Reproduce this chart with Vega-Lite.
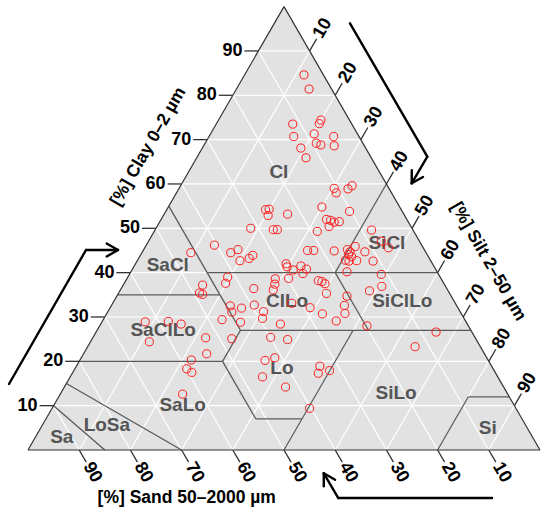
{
  "$schema": "https://vega.github.io/schema/vega-lite/v6.json",
  "width": 550,
  "height": 514,
  "autosize": {"type": "none"},
  "padding": 0,
  "background": "white",
  "config": {"view": {"stroke": null}, "font": "Liberation Sans"},
  "datasets": {
    "tri": [{"x": 0, "y": 0}, {"x": 50, "y": 100}, {"x": 100, "y": 0}],
    "grid": [
      {"x": 5, "y": 10, "x2": 95, "y2": 10}, {"x": 10, "y": 20, "x2": 90, "y2": 20}, {"x": 15, "y": 30, "x2": 85, "y2": 30},
      {"x": 20, "y": 40, "x2": 80, "y2": 40}, {"x": 25, "y": 50, "x2": 75, "y2": 50}, {"x": 30, "y": 60, "x2": 70, "y2": 60},
      {"x": 35, "y": 70, "x2": 65, "y2": 70}, {"x": 40, "y": 80, "x2": 60, "y2": 80}, {"x": 45, "y": 90, "x2": 55, "y2": 90},
      {"x": 10, "y": 0, "x2": 55, "y2": 90}, {"x": 20, "y": 0, "x2": 60, "y2": 80}, {"x": 30, "y": 0, "x2": 65, "y2": 70},
      {"x": 40, "y": 0, "x2": 70, "y2": 60}, {"x": 50, "y": 0, "x2": 75, "y2": 50}, {"x": 60, "y": 0, "x2": 80, "y2": 40},
      {"x": 70, "y": 0, "x2": 85, "y2": 30}, {"x": 80, "y": 0, "x2": 90, "y2": 20}, {"x": 90, "y": 0, "x2": 95, "y2": 10},
      {"x": 90, "y": 0, "x2": 45, "y2": 90}, {"x": 80, "y": 0, "x2": 40, "y2": 80}, {"x": 70, "y": 0, "x2": 35, "y2": 70},
      {"x": 60, "y": 0, "x2": 30, "y2": 60}, {"x": 50, "y": 0, "x2": 25, "y2": 50}, {"x": 40, "y": 0, "x2": 20, "y2": 40},
      {"x": 30, "y": 0, "x2": 15, "y2": 30}, {"x": 20, "y": 0, "x2": 10, "y2": 20}, {"x": 10, "y": 0, "x2": 5, "y2": 10}
    ],
    "bounds": [
      {"x": 5, "y": 10, "x2": 15, "y2": 0},
      {"x": 7.5, "y": 15, "x2": 30, "y2": 0},
      {"x": 10, "y": 20, "x2": 38, "y2": 20},
      {"x": 38, "y": 20, "x2": 44.5, "y2": 7},
      {"x": 44.5, "y": 7, "x2": 53.5, "y2": 7},
      {"x": 53.5, "y": 7, "x2": 50, "y2": 0},
      {"x": 53.5, "y": 7, "x2": 63.5, "y2": 27},
      {"x": 38, "y": 20, "x2": 41.5, "y2": 27},
      {"x": 41.5, "y": 27, "x2": 86.5, "y2": 27},
      {"x": 41.5, "y": 27, "x2": 37.5, "y2": 35},
      {"x": 37.5, "y": 35, "x2": 27.5, "y2": 55},
      {"x": 17.5, "y": 35, "x2": 37.5, "y2": 35},
      {"x": 35, "y": 40, "x2": 80, "y2": 40},
      {"x": 60, "y": 40, "x2": 70, "y2": 60},
      {"x": 60, "y": 40, "x2": 66.5, "y2": 27},
      {"x": 80, "y": 0, "x2": 86, "y2": 12},
      {"x": 86, "y": 12, "x2": 94, "y2": 12}
    ],
    "outline": [
      {"x": 0, "y": 0, "x2": 100, "y2": 0},
      {"x": 0, "y": 0, "x2": 50, "y2": 100},
      {"x": 100, "y": 0, "x2": 50, "y2": 100}
    ],
    "ticksL": [
      {"label": "10", "x": 2.27, "y": 10, "x2": 5, "y2": 10}, {"label": "20", "x": 7.27, "y": 20, "x2": 10, "y2": 20},
      {"label": "30", "x": 12.27, "y": 30, "x2": 15, "y2": 30}, {"label": "40", "x": 17.27, "y": 40, "x2": 20, "y2": 40},
      {"label": "50", "x": 22.27, "y": 50, "x2": 25, "y2": 50}, {"label": "60", "x": 27.27, "y": 60, "x2": 30, "y2": 60},
      {"label": "70", "x": 32.27, "y": 70, "x2": 35, "y2": 70}, {"label": "80", "x": 37.27, "y": 80, "x2": 40, "y2": 80},
      {"label": "90", "x": 42.27, "y": 90, "x2": 45, "y2": 90}
    ],
    "ticksB": [
      {"label": "90", "x": 11.37, "y": -2.73, "x2": 10, "y2": 0}, {"label": "80", "x": 21.37, "y": -2.73, "x2": 20, "y2": 0},
      {"label": "70", "x": 31.37, "y": -2.73, "x2": 30, "y2": 0}, {"label": "60", "x": 41.37, "y": -2.73, "x2": 40, "y2": 0},
      {"label": "50", "x": 51.37, "y": -2.73, "x2": 50, "y2": 0}, {"label": "40", "x": 61.37, "y": -2.73, "x2": 60, "y2": 0},
      {"label": "30", "x": 71.37, "y": -2.73, "x2": 70, "y2": 0}, {"label": "20", "x": 81.37, "y": -2.73, "x2": 80, "y2": 0},
      {"label": "10", "x": 91.37, "y": -2.73, "x2": 90, "y2": 0}
    ],
    "ticksR": [
      {"label": "10", "x": 56.37, "y": 92.73, "x2": 55, "y2": 90}, {"label": "20", "x": 61.37, "y": 82.73, "x2": 60, "y2": 80},
      {"label": "30", "x": 66.37, "y": 72.73, "x2": 65, "y2": 70}, {"label": "40", "x": 71.37, "y": 62.73, "x2": 70, "y2": 60},
      {"label": "50", "x": 76.37, "y": 52.73, "x2": 75, "y2": 50}, {"label": "60", "x": 81.37, "y": 42.73, "x2": 80, "y2": 40},
      {"label": "70", "x": 86.37, "y": 32.73, "x2": 85, "y2": 30}, {"label": "80", "x": 91.37, "y": 22.73, "x2": 90, "y2": 20},
      {"label": "90", "x": 96.37, "y": 12.73, "x2": 95, "y2": 10}
    ],
    "classes": [
      {"label": "Cl", "x": 49.0, "y": 62.8}, {"label": "SiCl", "x": 70.1, "y": 46.6},
      {"label": "SaCl", "x": 27.3, "y": 41.7}, {"label": "ClLo", "x": 50.6, "y": 33.6},
      {"label": "SiClLo", "x": 73.1, "y": 33.6}, {"label": "SaClLo", "x": 26.4, "y": 27.1},
      {"label": "Lo", "x": 49.6, "y": 18.4}, {"label": "SiLo", "x": 71.9, "y": 12.9},
      {"label": "SaLo", "x": 30.2, "y": 10.2}, {"label": "LoSa", "x": 15.4, "y": 5.6},
      {"label": "Sa", "x": 6.6, "y": 2.9}, {"label": "Si", "x": 89.8, "y": 5.0}
    ],
    "titleClay": [{"label": "[%] Clay 0–2 µm", "x": 23.5, "y": 68.4}],
    "titleSilt": [{"label": "[%] Silt 2–50 µm", "x": 89.9, "y": 42.5}],
    "titleSand": [{"label": "[%] Sand 50–2000 µm", "x": 31.0, "y": -10.9}],
    "arrows": [
      {"x": -3.71, "y": 14.88, "x2": 11.33, "y2": 45.11}, {"x": 11.33, "y": 45.11, "x2": 17.58, "y2": 45.11},
      {"x": 17.58, "y": 45.11, "x2": 15.37, "y2": 46.57}, {"x": 17.58, "y": 45.11, "x2": 15.37, "y2": 43.64},
      {"x": 62.89, "y": 96.23, "x2": 77.99, "y2": 66.15}, {"x": 77.99, "y": 66.15, "x2": 74.94, "y2": 60.15},
      {"x": 74.94, "y": 60.15, "x2": 77.15, "y2": 61.57}, {"x": 74.94, "y": 60.15, "x2": 74.96, "y2": 63.08},
      {"x": 90.63, "y": -10.83, "x2": 60.61, "y2": -10.83}, {"x": 60.61, "y": -10.83, "x2": 57.77, "y2": -5.25},
      {"x": 57.77, "y": -5.25, "x2": 57.77, "y2": -8.19}, {"x": 57.77, "y": -5.25, "x2": 59.98, "y2": -6.72}
    ],
    "samples": [
      {"x": 53.9, "y": 84.6}, {"x": 54.9, "y": 81.4}, {"x": 51.7, "y": 73.5}, {"x": 57.2, "y": 74.4}, {"x": 56.9, "y": 73.6},
      {"x": 51.9, "y": 70.7}, {"x": 55.9, "y": 71.3}, {"x": 56.3, "y": 69.2}, {"x": 57.2, "y": 68.8}, {"x": 59.7, "y": 70.7},
      {"x": 59.8, "y": 68.6}, {"x": 53.3, "y": 68.1}, {"x": 54.3, "y": 65.9}, {"x": 59.8, "y": 59.0}, {"x": 60.2, "y": 58.0},
      {"x": 62.5, "y": 58.9}, {"x": 63.3, "y": 59.6}, {"x": 46.4, "y": 54.2}, {"x": 47.1, "y": 54.3}, {"x": 46.9, "y": 52.9},
      {"x": 50.7, "y": 53.2}, {"x": 57.4, "y": 54.8}, {"x": 62.8, "y": 53.8}, {"x": 43.5, "y": 50.0}, {"x": 47.9, "y": 49.7},
      {"x": 48.7, "y": 49.7}, {"x": 58.3, "y": 52.0}, {"x": 59.1, "y": 51.8}, {"x": 59.8, "y": 51.4}, {"x": 60.8, "y": 51.5},
      {"x": 58.8, "y": 50.4}, {"x": 56.5, "y": 49.3}, {"x": 67.1, "y": 49.6}, {"x": 36.4, "y": 46.2}, {"x": 31.8, "y": 44.5},
      {"x": 39.6, "y": 44.5}, {"x": 41.0, "y": 45.2}, {"x": 41.4, "y": 42.7}, {"x": 43.2, "y": 43.2}, {"x": 43.9, "y": 43.9},
      {"x": 54.6, "y": 45.0}, {"x": 55.8, "y": 45.0}, {"x": 59.8, "y": 44.9}, {"x": 62.4, "y": 45.2}, {"x": 63.9, "y": 45.9},
      {"x": 62.9, "y": 44.7}, {"x": 62.6, "y": 44.1}, {"x": 63.2, "y": 43.6}, {"x": 65.8, "y": 44.7}, {"x": 69.0, "y": 47.1},
      {"x": 70.4, "y": 45.6}, {"x": 62.0, "y": 42.8}, {"x": 62.7, "y": 42.6}, {"x": 64.2, "y": 42.7}, {"x": 67.4, "y": 42.6},
      {"x": 50.4, "y": 42.0}, {"x": 50.6, "y": 41.3}, {"x": 51.8, "y": 40.6}, {"x": 53.3, "y": 41.5}, {"x": 54.4, "y": 40.8},
      {"x": 53.7, "y": 39.8}, {"x": 62.3, "y": 40.2}, {"x": 69.0, "y": 39.6}, {"x": 56.7, "y": 38.2}, {"x": 57.4, "y": 38.0},
      {"x": 58.0, "y": 37.5}, {"x": 69.1, "y": 36.9}, {"x": 58.3, "y": 35.3}, {"x": 66.7, "y": 35.9}, {"x": 62.3, "y": 34.7},
      {"x": 39.0, "y": 39.0}, {"x": 38.6, "y": 37.6}, {"x": 34.1, "y": 37.2}, {"x": 33.5, "y": 35.4}, {"x": 34.1, "y": 35.1},
      {"x": 44.1, "y": 36.4}, {"x": 48.3, "y": 38.6}, {"x": 48.2, "y": 37.4}, {"x": 50.9, "y": 38.7}, {"x": 47.9, "y": 36.1},
      {"x": 39.5, "y": 32.5}, {"x": 39.8, "y": 31.1}, {"x": 41.7, "y": 32.0}, {"x": 44.2, "y": 32.7}, {"x": 46.0, "y": 31.2},
      {"x": 45.8, "y": 29.7}, {"x": 37.9, "y": 29.4}, {"x": 41.5, "y": 28.8}, {"x": 49.3, "y": 28.4}, {"x": 47.4, "y": 25.4},
      {"x": 50.7, "y": 24.9}, {"x": 51.5, "y": 33.1}, {"x": 55.1, "y": 32.1}, {"x": 57.5, "y": 30.7}, {"x": 60.2, "y": 29.1},
      {"x": 61.8, "y": 32.6}, {"x": 61.9, "y": 30.8}, {"x": 66.2, "y": 28.0}, {"x": 79.7, "y": 26.6}, {"x": 75.6, "y": 23.3},
      {"x": 22.9, "y": 28.9}, {"x": 27.4, "y": 29.0}, {"x": 29.9, "y": 28.4}, {"x": 23.7, "y": 24.4}, {"x": 34.7, "y": 25.3},
      {"x": 39.8, "y": 25.1}, {"x": 34.9, "y": 21.7}, {"x": 31.9, "y": 20.3}, {"x": 31.0, "y": 18.3}, {"x": 32.0, "y": 17.5},
      {"x": 30.2, "y": 12.6}, {"x": 46.3, "y": 20.2}, {"x": 48.2, "y": 20.8}, {"x": 45.8, "y": 16.5}, {"x": 50.3, "y": 14.2},
      {"x": 57.0, "y": 18.9}, {"x": 56.7, "y": 17.3}, {"x": 58.9, "y": 17.9}, {"x": 55.0, "y": 9.4}
    ]
  },
  "encoding": {
    "x": {"field": "x", "type": "quantitative", "scale": {"domain": [0, 100], "range": [28, 540], "nice": false, "zero": false}, "axis": null},
    "y": {"field": "y", "type": "quantitative", "scale": {"domain": [0, 100], "range": [450, 6.6], "nice": false, "zero": false}, "axis": null}
  },
  "layer": [
    {"data": {"name": "tri"}, "mark": {"type": "area", "fill": "#e2e2e2", "stroke": null}, "encoding": {"y2": {"datum": 0}}},
    {"data": {"name": "grid"}, "mark": {"type": "rule", "stroke": "#ffffff", "strokeWidth": 1.2}, "encoding": {"x2": {"field": "x2"}, "y2": {"field": "y2"}}},
    {"data": {"name": "bounds"}, "mark": {"type": "rule", "stroke": "#5a5a5a", "strokeWidth": 1.3}, "encoding": {"x2": {"field": "x2"}, "y2": {"field": "y2"}}},
    {"data": {"name": "outline"}, "mark": {"type": "rule", "stroke": "#333333", "strokeWidth": 1.2}, "encoding": {"x2": {"field": "x2"}, "y2": {"field": "y2"}}},
    {"data": {"name": "ticksL"}, "mark": {"type": "rule", "stroke": "#333333", "strokeWidth": 1.3}, "encoding": {"x2": {"field": "x2"}, "y2": {"field": "y2"}}},
    {"data": {"name": "ticksB"}, "mark": {"type": "rule", "stroke": "#333333", "strokeWidth": 1.3}, "encoding": {"x2": {"field": "x2"}, "y2": {"field": "y2"}}},
    {"data": {"name": "ticksR"}, "mark": {"type": "rule", "stroke": "#333333", "strokeWidth": 1.3}, "encoding": {"x2": {"field": "x2"}, "y2": {"field": "y2"}}},
    {"data": {"name": "ticksL"}, "mark": {"type": "text", "align": "right", "baseline": "middle", "dx": -2, "fontSize": 18, "fontWeight": "bold", "color": "#000000"}, "encoding": {"text": {"field": "label"}}},
    {"data": {"name": "ticksB"}, "mark": {"type": "text", "align": "left", "baseline": "middle", "dx": 2, "angle": 60, "fontSize": 18, "fontWeight": "bold", "color": "#000000"}, "encoding": {"text": {"field": "label"}}},
    {"data": {"name": "ticksR"}, "mark": {"type": "text", "align": "left", "baseline": "middle", "dx": 2, "angle": 300, "fontSize": 18, "fontWeight": "bold", "color": "#000000"}, "encoding": {"text": {"field": "label"}}},
    {"data": {"name": "classes"}, "mark": {"type": "text", "align": "center", "baseline": "middle", "fontSize": 19, "fontWeight": "bold", "color": "#555555"}, "encoding": {"text": {"field": "label"}}},
    {"data": {"name": "titleClay"}, "mark": {"type": "text", "align": "center", "baseline": "middle", "angle": 300, "fontSize": 17.5, "fontWeight": "bold", "color": "#000000"}, "encoding": {"text": {"field": "label"}}},
    {"data": {"name": "titleSilt"}, "mark": {"type": "text", "align": "center", "baseline": "middle", "angle": 60, "fontSize": 17.5, "fontWeight": "bold", "color": "#000000"}, "encoding": {"text": {"field": "label"}}},
    {"data": {"name": "titleSand"}, "mark": {"type": "text", "align": "center", "baseline": "middle", "fontSize": 17.5, "fontWeight": "bold", "color": "#000000"}, "encoding": {"text": {"field": "label"}}},
    {"data": {"name": "samples"}, "mark": {"type": "point", "shape": "circle", "filled": false, "stroke": "#ff2020", "strokeWidth": 1, "size": 66, "opacity": 1}},
    {"data": {"name": "arrows"}, "mark": {"type": "rule", "stroke": "#000000", "strokeWidth": 2.4, "strokeCap": "round"}, "encoding": {"x2": {"field": "x2"}, "y2": {"field": "y2"}}}
  ]
}
